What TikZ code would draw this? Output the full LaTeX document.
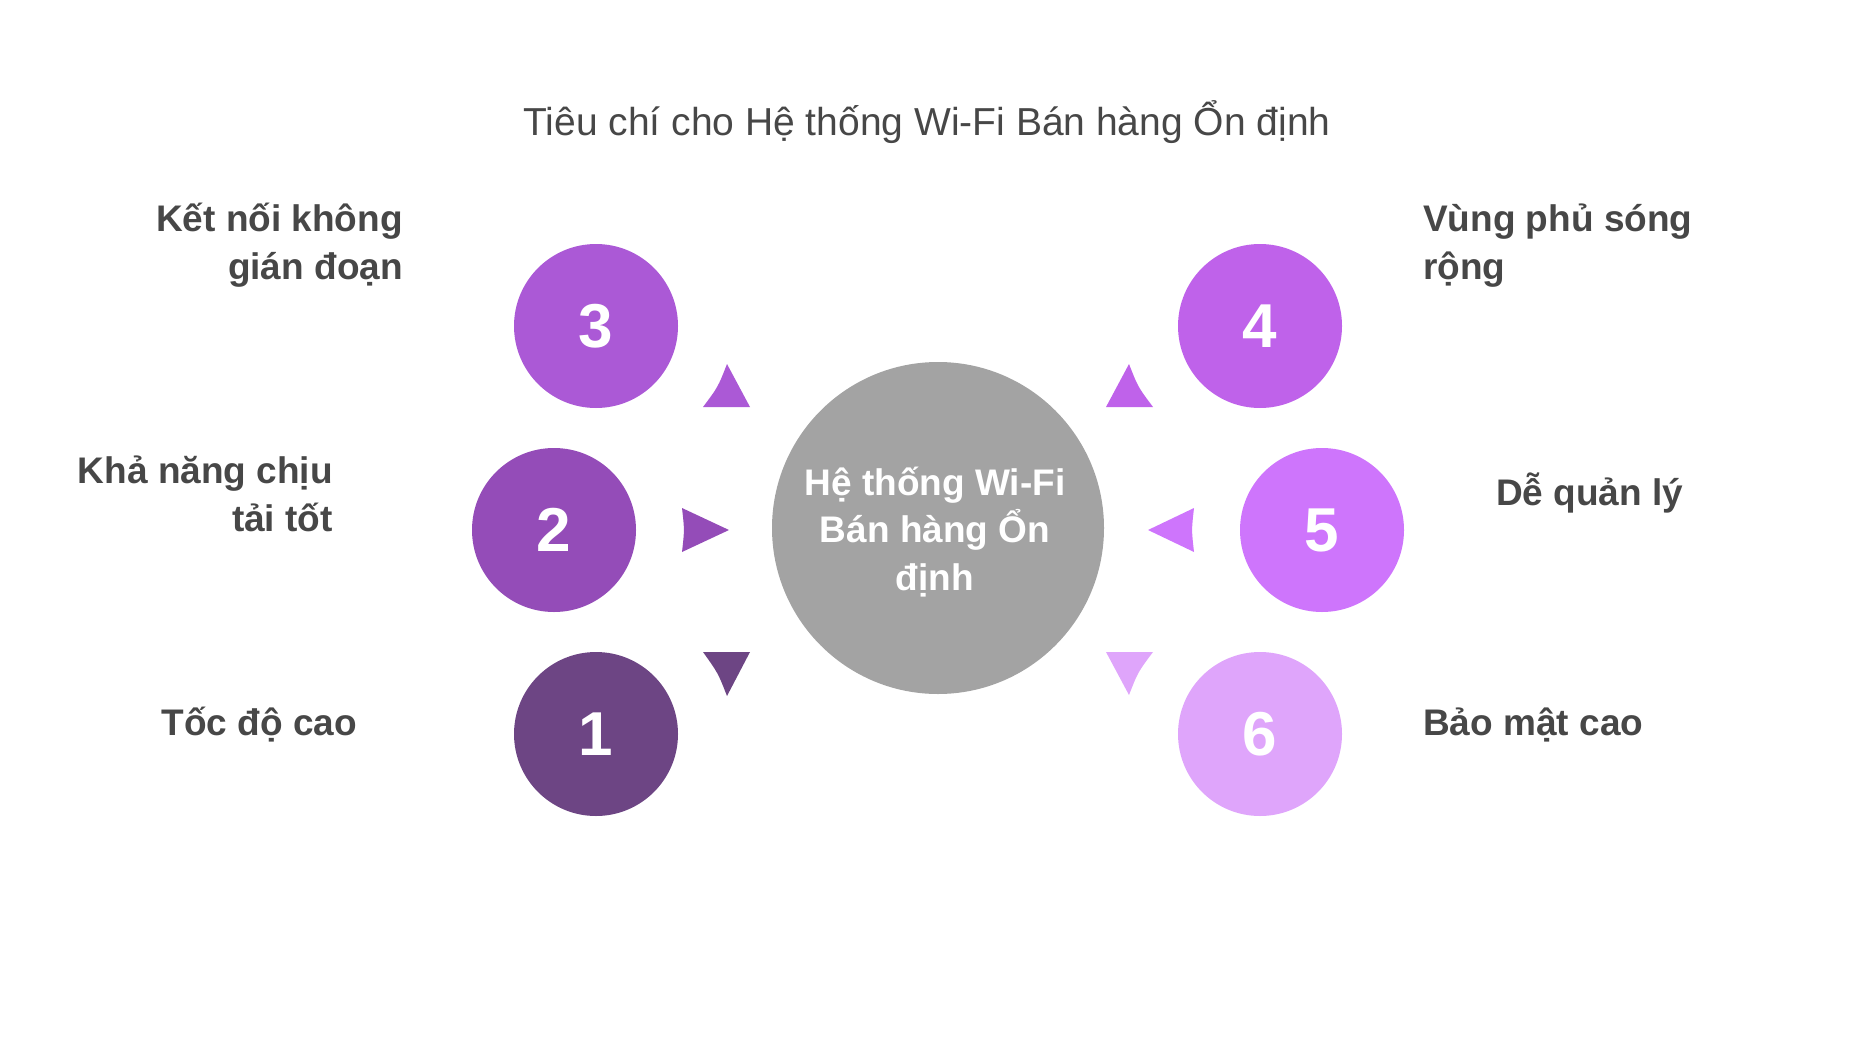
\documentclass[tikz,border=0pt]{standalone}
\usepackage{fontspec}
\setmainfont{Liberation Sans}
\definecolor{cA}{HTML}{6D4584}
\definecolor{cB}{HTML}{944CB8}
\definecolor{cC}{HTML}{AB59D6}
\definecolor{cD}{HTML}{BF62EA}
\definecolor{cE}{HTML}{CE75FC}
\definecolor{cF}{HTML}{DFA5FB}
\definecolor{hubgray}{HTML}{A3A3A3}
\definecolor{txt}{HTML}{474747}
\tikzset{
  numcirc/.style={circle, minimum size=164pt, inner sep=0pt, text=white,
    font={\fontsize{62}{62}\selectfont\bfseries}},
  lbl/.style={inner sep=0pt, text=txt, font={\fontsize{37}{48}\selectfont\bfseries}},
  lblL/.style={lbl, anchor=base east, align=right},
  lblR/.style={lbl, anchor=base west, align=left},
}
\begin{document}
\begin{tikzpicture}[x=1pt,y=-1pt]
\useasboundingbox (0,0) rectangle (1852,1036);
% title
\node[anchor=base, inner sep=0pt, text=txt, font={\fontsize{39}{46}\selectfont}] (title) at (927,135) {Tiêu chí cho Hệ thống Wi-Fi Bán hàng Ổn định};
% hub
\node[circle, fill=hubgray, minimum size=332pt, inner sep=0pt] (hub) at (938,528) {};
\node[anchor=base, inner sep=0pt, align=center, text=white, font={\fontsize{37}{47.5}\selectfont\bfseries}] (hubtext) at (935,590) {Hệ thống Wi-Fi\\Bán hàng Ổn\\định};
% numbered circles
\node[numcirc, fill=cA] (n1) at (596,734) {1};
\node[numcirc, fill=cB] (n2) at (554,530) {2};
\node[numcirc, fill=cC] (n3) at (596,326) {3};
\node[numcirc, fill=cD] (n4) at (1260,326) {4};
\node[numcirc, fill=cE] (n5) at (1322,530) {5};
\node[numcirc, fill=cF] (n6) at (1260,734) {6};
% triangles
\fill[cC] (727,364) -- (750,407) -- (703,407) .. controls (718,387) .. cycle;
\fill[cB] (729,530) -- (682,552) .. controls (684.5,530) .. (682,508) -- cycle;
\fill[cA] (703,652) -- (750,652) -- (727,696) .. controls (718,673) .. cycle;
\fill[cD] (1129,364) .. controls (1138,387) .. (1153,407) -- (1106,407) -- cycle;
\fill[cE] (1148,530) -- (1194,508) .. controls (1191.5,530) .. (1194,552) -- cycle;
\fill[cF] (1106,652) -- (1153,652) .. controls (1138,672) .. (1129,695) -- cycle;
% labels
\node[lblL] (l3) at (403,279) {Kết nối không\\gián đoạn};
\node[lblL] (l2) at (333,531) {Khả năng chịu\\tải tốt};
\node[lblL] (l1) at (357,735) {Tốc độ cao};
\node[lblR] (l4) at (1423,279) {Vùng phủ sóng\\rộng};
\node[lblR] (l5) at (1496,505) {Dễ quản lý};
\node[lblR] (l6) at (1423,735) {Bảo mật cao};
\end{tikzpicture}
\end{document}
